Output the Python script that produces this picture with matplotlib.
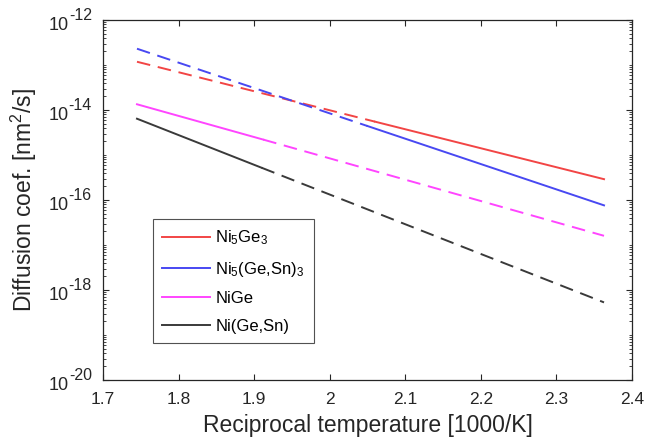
import matplotlib
matplotlib.use("Agg")
import matplotlib.pyplot as plt
import matplotlib.ticker as mticker
import numpy as np

plt.rcParams['font.family'] = ['Liberation Sans', 'DejaVu Sans']
plt.rcParams['mathtext.fontset'] = 'custom'
plt.rcParams['mathtext.rm'] = 'Liberation Sans'
plt.rcParams['mathtext.it'] = 'Liberation Sans:italic'
plt.rcParams['mathtext.default'] = 'regular'

# reciprocal temperature [1000/K]; each series: start, switch point, end
x_ni5ge3 = [1.745, 2.06, 2.363]
y_ni5ge3 = [1.18e-13, 5.5e-15, 2.9e-16]
x_ni5gesn3 = [1.745, 2.05, 2.363]
y_ni5gesn3 = [2.3e-13, 4.4e-15, 7.6e-17]
x_nige = [1.745, 1.912, 2.363]
y_nige = [1.34e-14, 2.2e-15, 1.6e-17]
x_nigesn = [1.745, 1.91, 2.363]
y_nigesn = [6.4e-15, 5.2e-16, 5.3e-19]

labels = ["Ni$_5$Ge$_3$", "Ni$_5$(Ge,Sn)$_3$", "NiGe", "Ni(Ge,Sn)"]
colors = ["#f24545", "#4848f2", "#ff45ff", "#3a3a3a"]
# which part is dashed: 0 = first segment, 1 = second segment
dashed_part = [0, 0, 1, 1]

xticks = [1.7, 1.8, 1.9, 2.0, 2.1, 2.2, 2.3, 2.4]
xticklabels = ["1.7", "1.8", "1.9", "2", "2.1", "2.2", "2.3", "2.4"]
yexps = [-20, -18, -16, -14, -12]

series = [(x_ni5ge3, y_ni5ge3), (x_ni5gesn3, y_ni5gesn3),
          (x_nige, y_nige), (x_nigesn, y_nigesn)]

fig = plt.figure(figsize=(6.46, 4.48), dpi=100)
ax = fig.add_axes([0.1594, 0.1518, 0.8189, 0.8036])

dash = (0, (7, 4))
handles = []
for (x, y), lab, c, dp in zip(series, labels, colors, dashed_part):
    ax.plot(x[:2], y[:2], color=c, lw=1.4, ls=dash if dp == 0 else '-')
    ax.plot(x[1:], y[1:], color=c, lw=1.4, ls=dash if dp == 1 else '-')
    h, = ax.plot([], [], color=c, lw=1.4, label=lab)
    handles.append(h)

ax.set_yscale('log')
ax.set_xlim(1.7, 2.4)
ax.set_ylim(1e-20, 1e-12)
ax.set_xticks(xticks)
ax.set_xticklabels(xticklabels)
ax.set_yticks([10.0 ** e for e in yexps])
ax.set_yticklabels([])
ax.yaxis.set_minor_locator(mticker.LogLocator(base=10, subs=np.arange(1, 10), numticks=100))
ax.yaxis.set_minor_formatter(mticker.NullFormatter())
ax.tick_params(which='both', direction='in', top=True, right=True,
               labelsize=12.5, color='#262626', labelcolor='#262626')
ax.tick_params(which='major', length=4, width=0.8, pad=9)
ax.tick_params(which='minor', length=2, width=0.6)
for s in ax.spines.values():
    s.set_color('#262626')
    s.set_linewidth(0.9)

# y tick labels like 10^-14 with a large superscript
trans = ax.get_yaxis_transform()
for e in yexps:
    sup = ax.annotate("-%d" % -e, xy=(0, 10.0 ** e), xycoords=trans,
                      xytext=(-8, 0), textcoords='offset points',
                      ha='right', va='baseline', fontsize=11.5, color='#262626')
    ax.annotate("10", xy=(0, 10.0 ** e), xycoords=(sup, 'data'),
                xytext=(0, -7.5), textcoords='offset points',
                ha='right', va='baseline', fontsize=13, color='#262626')

ax.set_xlabel("Reciprocal temperature [1000/K]", fontsize=16.5, color='#262626', labelpad=5)
ax.set_ylabel("Diffusion coef. [nm$^2$/s]", fontsize=16.5, color='#262626')
ax.yaxis.set_label_coords(-0.12, 0.5)

leg = ax.legend(handles=handles, loc='lower left', bbox_to_anchor=(0.0945, 0.103),
                borderaxespad=0, fontsize=12, fancybox=False, handlelength=2.9,
                handletextpad=0.3, labelspacing=0.75, borderpad=0.55)
leg.get_frame().set_edgecolor('#262626')
leg.get_frame().set_linewidth(0.8)

fig.savefig("out.png", dpi=100)
